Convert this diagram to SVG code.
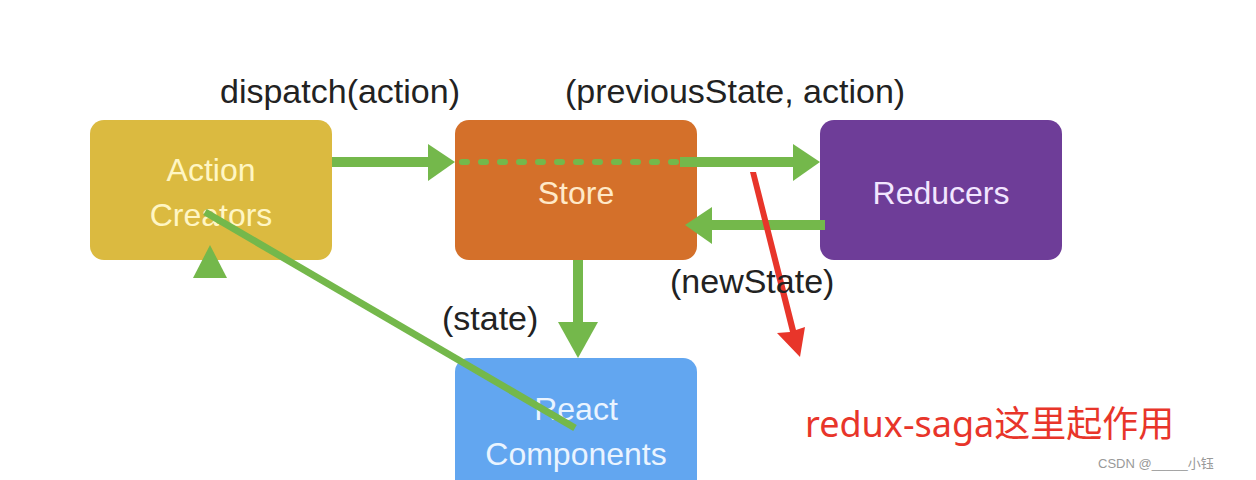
<svg xmlns="http://www.w3.org/2000/svg" width="1256" height="480" viewBox="0 0 1256 480">
<style>
.lbl{font-family:"Liberation Sans",Arial,sans-serif;font-size:34px;fill:#222}
.nt{font-family:"Liberation Sans",Arial,sans-serif;font-size:32px;text-anchor:middle}
.g{stroke:#74b84b;stroke-width:10;fill:none}
.gh{fill:#74b84b}
</style>
<rect width="1256" height="480" fill="#fff"/>
<g id="action-creators"><rect x="90" y="120" width="242" height="140" rx="14" fill="#dbba40"/><text class="nt" x="211" y="181" fill="#fff6c4">Action</text><text class="nt" x="211" y="226" fill="#fff6c4">Creators</text></g>
<g id="store"><rect x="455" y="120" width="242" height="140" rx="14" fill="#d4702a"/><text class="nt" x="576" y="204" fill="#ffe9c8">Store</text></g>
<g id="reducers"><rect x="820" y="120" width="242" height="140" rx="14" fill="#6e3d98"/><text class="nt" x="941" y="204" fill="#f2e6ff">Reducers</text></g>
<g id="react-components"><rect x="455" y="358" width="242" height="140" rx="14" fill="#62a6f0"/><text class="nt" x="576" y="420" fill="#eaf4ff">React</text><text class="nt" x="576" y="465" fill="#eaf4ff">Components</text></g>
<g id="connectors">
<line class="g" x1="332" y1="162" x2="432" y2="162"/><polygon class="gh" points="428,144 455,162 428,181"/>
<line x1="462" y1="162" x2="680" y2="162" stroke="#74b84b" stroke-width="6" stroke-dasharray="5 14" stroke-linecap="round"/>
<line class="g" x1="680" y1="162" x2="797" y2="162"/><polygon class="gh" points="793,144 820,162 793,181"/>
<line class="g" x1="825" y1="225" x2="708" y2="225"/><polygon class="gh" points="712,207 685,225 712,244"/>
<line class="g" x1="578" y1="260" x2="578" y2="325"/><polygon class="gh" points="558,322 578,358 598,322"/>
<polygon class="gh" points="193,278 210,245 227,278"/>
<line x1="205" y1="212" x2="575" y2="428" stroke="#74b84b" stroke-width="7"/>
<polygon points="750,172 756,172 796,330 805,327 800,357 777,333 790,332" fill="#e8352a"/>
</g>
<text class="lbl" x="220" y="103">dispatch(action)</text>
<text class="lbl" x="565" y="103">(previousState, action)</text>
<text class="lbl" x="670" y="293">(newState)</text>
<text class="lbl" x="442" y="330">(state)</text>
<text x="805" y="437" font-family="'Noto Sans','Noto Sans CJK SC',sans-serif" font-size="36" fill="#e8352a">redux-saga这里起作用</text>
<text x="1098" y="468" font-family="'Liberation Sans','Noto Sans CJK SC',sans-serif" font-size="13" fill="#999">CSDN @_____小钰</text>
</svg>
